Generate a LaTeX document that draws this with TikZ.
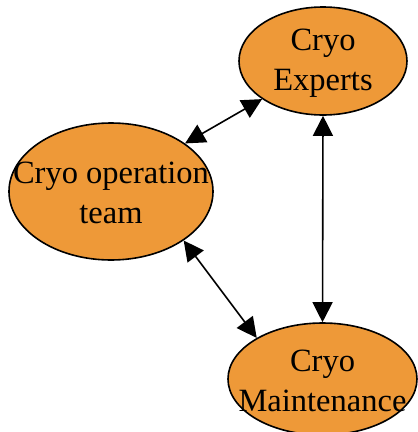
\documentclass[tikz,border=0pt]{standalone}
\usepackage{fontspec}
\setmainfont{Liberation Serif}
\usetikzlibrary{shapes.geometric,arrows.meta}
\definecolor{cryoorange}{HTML}{EE9938}
\begin{document}
\begin{tikzpicture}[x=1pt,y=-1pt,
  blob/.style={ellipse,draw=black,line width=1.6pt,fill=cryoorange,inner sep=0pt},
  label/.style={align=center,inner sep=0pt,font=\fontsize{32.5}{40}\selectfont},
  link/.style={line width=1.6pt,{Triangle[length=20pt,width=20pt]}-{Triangle[length=20pt,width=20pt]}}]
\useasboundingbox (0,0) rectangle (418,432);
\node[blob,minimum width=168pt,minimum height=108pt] (exp) at (323,61) {};
\node[label] (expt) at (323,63) {Cryo\\Experts};
\node[blob,minimum width=204pt,minimum height=137pt] (op) at (111,191.5) {};
\node[label] (opt) at (111,193) {Cryo operation\\team};
\node[blob,minimum width=189pt,minimum height=112pt] (mnt) at (322.5,379) {};
\node[label] (mntt) at (322.5,381) {Cryo\\Maintenance};
\draw[link] (op.33) -- (exp.212);
\draw[link] (op.-34) -- (mnt.148);
\draw[link] (exp.south) -- (mnt.north);
\end{tikzpicture}
\end{document}
